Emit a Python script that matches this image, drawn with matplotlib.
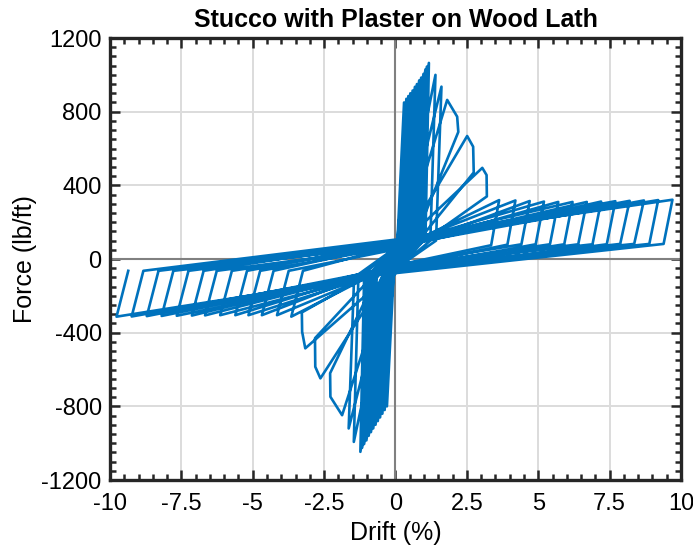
import numpy as np
import matplotlib
matplotlib.use("Agg")
import matplotlib.pyplot as plt
from matplotlib.ticker import MultipleLocator, FuncFormatter

plt.rcParams['font.family'] = ['Liberation Sans', 'DejaVu Sans']

# 每个循环的峰值点 (drift %, force lb/ft)
pos_peak_d = [0.30, 0.38, 0.45, 0.52, 0.60, 0.68, 0.75, 0.83, 0.90, 0.98, 1.05, 1.10, 1.17,
              1.40, 1.61, 1.81, 2.51, 3.04,
              3.63, 4.20, 4.70, 5.20, 5.70, 6.20, 6.70, 7.20, 7.70, 8.20, 8.70, 9.20, 9.70]
pos_peak_f = [850, 870, 885, 900, 915, 935, 950, 970, 985, 1005, 1030, 1045, 1065,
              1000, 936, 864, 668, 495,
              320, 318, 315, 312, 310, 310, 310, 312, 314, 316, 318, 320, 322]
neg_peak_d = [-0.30, -0.38, -0.46, -0.54, -0.62, -0.70, -0.78, -0.86, -0.94, -1.02, -1.10, -1.17, -1.23,
              -1.46, -1.64, -1.87, -2.63, -3.16,
              -3.65, -4.15, -4.68, -5.15, -5.61, -6.14, -6.67, -7.13, -7.66, -8.19, -8.71, -9.24, -9.77]
neg_peak_f = [-800, -820, -840, -860, -880, -900, -920, -940, -960, -985, -1005, -1025, -1047,
              -993, -920, -848, -648, -485,
              -313, -305, -305, -305, -305, -305, -306, -307, -308, -309, -310, -312, -313]

# 卸载终点
pos_unload_d = [0.20, 0.27, 0.34, 0.41, 0.48, 0.56, 0.63, 0.71, 0.78, 0.86, 0.93, 0.98, 1.05,
                1.22, 1.42, 0.55, 0.60, 0.65,
                3.35, 3.92, 4.41, 4.91, 5.41, 5.91, 6.40, 6.90, 7.40, 7.87, 8.36, 8.89, 9.39]
pos_unload_f = [120, 110, 130, 100, 120, 110, 130, 100, 120, 110, 130, 100, 120,
                100, 100, 60, 60, 60,
                75, 78, 80, 80, 80, 80, 80, 80, 80, 82, 82, 82, 82]
neg_unload_d = [-0.19, -0.27, -0.35, -0.43, -0.51, -0.58, -0.66, -0.74, -0.82, -0.90, -0.98, -1.05, -1.10,
                -1.30, -1.45, -0.55, -0.60, -0.65,
                -3.24, -3.74, -4.27, -4.74, -5.20, -5.73, -6.26, -6.72, -7.25, -7.78, -8.30, -8.83, -9.36]
neg_unload_f = [-110, -130, -100, -120, -110, -130, -100, -120, -110, -130, -100, -120, -110,
                -100, -100, -60, -60, -60,
                -64, -64, -64, -64, -64, -64, -64, -64, -64, -64, -64, -64, -64]

# 峰后软化段 (循环序号 -> 点)
pos_soft = {15: [(2.16, 773), (2.20, 690)], 16: [(2.72, 610), (2.74, 470)], 17: [(3.19, 456), (3.20, 340)]}
neg_soft = {15: [(-2.28, -748), (-2.29, -620)], 16: [(-2.81, -585), (-2.82, -430)], 17: [(-3.27, -395), (-3.28, -290)]}

# 捏缩点
pinch_pos_d = [0.05, 0.08, 0.10, 0.06, 0.12, 0.09, 0.14, 0.07, 0.12, 0.16, 0.10, 0.15, 0.18,
               0.22, 0.25, 0.30, 0.35, 0.40,
               0.30, 0.35, 0.25, 0.40, 0.30, 0.45, 0.35, 0.30, 0.50, 0.40, 0.35, 0.45, 0.50]
pinch_pos_f = [40, 70, 55, 90, 60, 80, 50, 95, 70, 85, 60, 100, 80,
               90, 80, 95, 100, 110,
               70, 85, 60, 95, 75, 100, 80, 70, 110, 90, 80, 100, 115]
pinch_neg_d = [-0.05, -0.08, -0.10, -0.06, -0.12, -0.09, -0.14, -0.07, -0.12, -0.16, -0.10, -0.15, -0.18,
               -0.22, -0.25, -0.30, -0.35, -0.40,
               -0.30, -0.35, -0.25, -0.40, -0.30, -0.45, -0.35, -0.30, -0.50, -0.40, -0.35, -0.45, -0.50]
pinch_neg_f = [-40, -70, -55, -90, -60, -80, -50, -95, -70, -85, -60, -100, -80,
               -90, -80, -95, -100, -110,
               -45, -60, -40, -70, -50, -75, -55, -45, -80, -65, -55, -70, -85]

xs, ys = [0.0], [0.0]
for i in range(len(pos_peak_d)):
    xs += [pinch_pos_d[i], pos_peak_d[i]]
    ys += [pinch_pos_f[i], pos_peak_f[i]]
    for p in pos_soft.get(i, []):
        xs.append(p[0]); ys.append(p[1])
    xs.append(pos_unload_d[i]); ys.append(pos_unload_f[i])
    xs += [pinch_neg_d[i], neg_peak_d[i]]
    ys += [pinch_neg_f[i], neg_peak_f[i]]
    for p in neg_soft.get(i, []):
        xs.append(p[0]); ys.append(p[1])
    xs.append(neg_unload_d[i]); ys.append(neg_unload_f[i])

fig = plt.figure(figsize=(6.93, 5.52), dpi=100)
ax = fig.add_axes([0.1587, 0.1304, 0.824, 0.8007])

ax.axhline(0, color='#808080', lw=1.5, zorder=1)
ax.axvline(0, color='#808080', lw=1.5, zorder=1)
ax.plot(xs, ys, color='#0072BD', lw=1.9, zorder=2)

ax.set_xlim(-10, 10)
ax.set_ylim(-1200, 1200)
ax.xaxis.set_major_locator(MultipleLocator(2.5))
ax.xaxis.set_minor_locator(MultipleLocator(0.5))
ax.yaxis.set_major_locator(MultipleLocator(400))
ax.yaxis.set_minor_locator(MultipleLocator(50))
ax.xaxis.set_major_formatter(FuncFormatter(lambda v, p: ('%g' % v)))
ax.yaxis.set_major_formatter(FuncFormatter(lambda v, p: ('%g' % v)))
ax.grid(True, which='major', color='#DCDCDC', lw=1.4, zorder=0)
ax.set_axisbelow(True)

ax.tick_params(which='both', direction='in', top=True, right=True, labelsize=17, width=1.8, color='#262626')
ax.tick_params(which='major', length=7)
ax.tick_params(which='minor', length=4)
ax.tick_params(axis='x', which='major', pad=9)
ax.tick_params(axis='y', which='major', pad=6)
for s in ax.spines.values():
    s.set_linewidth(2.4)
    s.set_color('#262626')

ax.set_xlabel('Drift (%)', fontsize=18, labelpad=5)
ax.set_ylabel('Force (lb/ft)', fontsize=18, labelpad=3)
ax.set_title('Stucco with Plaster on Wood Lath', fontsize=18, fontweight='bold', pad=8)

fig.savefig('out.png', dpi=100)
